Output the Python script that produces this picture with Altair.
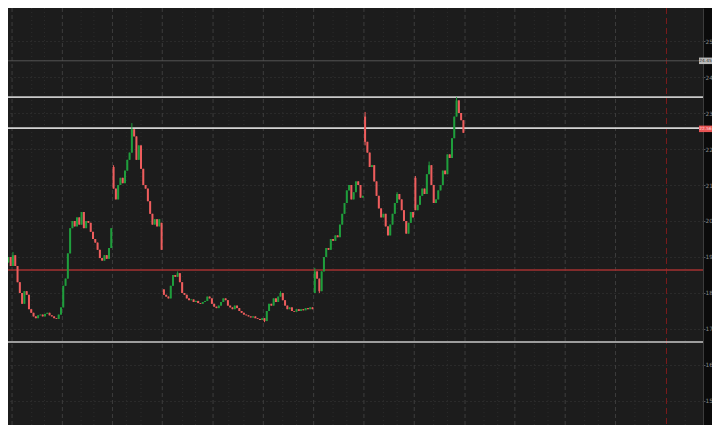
import altair as alt
import pandas as pd

# ---- data ----
closes = [
    18.85, 19.0, 18.75, 19.05, 18.75, 18.3, 18.0, 17.7, 18.05, 17.95,
    17.55, 17.45, 17.35, 17.3, 17.38, 17.4, 17.35, 17.42, 17.45, 17.38,
    17.35, 17.3, 17.28, 17.4, 17.6, 18.2, 18.4, 19.1, 19.8, 20.0,
    19.85, 20.1, 19.9, 20.25, 19.8, 20.0, 19.95, 19.7, 19.5, 19.4,
    19.2, 18.97, 18.9, 19.05, 18.95, 19.25, 19.8, 20.9, 20.6, 21.0,
    21.2, 21.05, 21.4, 21.7, 21.9, 22.55, 22.35, 21.7, 22.1, 21.45,
    21.0, 20.9, 20.55, 20.2, 19.9, 20.05, 19.85, 20.05, 19.2, 17.95,
    17.9, 17.85, 18.2, 18.5, 18.45, 18.55, 18.3, 18.0, 17.95, 17.85,
    17.8, 17.82, 17.75, 17.78, 17.72, 17.7, 17.75, 17.78, 17.9, 17.85,
    17.7, 17.62, 17.58, 17.65, 17.75, 17.85, 17.8, 17.65, 17.6, 17.55,
    17.65, 17.58, 17.5, 17.45, 17.4, 17.38, 17.35, 17.32, 17.35, 17.3,
    17.28, 17.25, 17.3, 17.22, 17.5, 17.7, 17.65, 17.85, 17.75, 17.9,
    18.0, 17.8, 17.65, 17.55, 17.6, 17.5, 17.48, 17.55, 17.5, 17.55,
    17.52, 17.58, 17.55, 17.6, 17.55, 18.6, 18.4, 18.05, 18.6, 19.0,
    19.25, 19.2, 19.5, 19.45, 19.6, 19.55, 19.9, 20.2, 20.5, 20.85,
    21.0, 20.6, 20.8, 21.1, 21.0, 20.65, 20.7, 22.2, 21.9, 21.5,
    21.55, 21.1, 20.7, 20.35, 20.1, 20.2, 19.85, 19.6, 19.9, 20.2,
    20.5, 20.75, 20.6, 20.3, 20.0, 19.65, 19.95, 20.25, 20.1, 20.3,
    20.45, 20.7, 20.9, 20.75, 21.3, 21.55, 21.0, 20.5, 20.6, 20.85,
    21.0, 21.4, 21.3, 21.85, 21.75, 22.3, 22.9, 23.35, 23.0, 22.8,
    22.45,
]
first_open = 18.8
gap_opens = {47: 21.5, 68: 19.95, 69: 18.1, 135: 18.0, 157: 22.9, 179: 21.2}
wick_highs = {3: 19.14, 47: 21.55, 55: 22.72, 75: 18.6, 120: 18.05, 135: 18.7,
              157: 23.03, 171: 20.8, 179: 21.25, 185: 21.65, 197: 23.44}
wick_lows = {113: 17.19, 137: 18.0, 157: 22.1}

level_values = [24.45, 23.44, 22.58, 18.64, 16.64]
level_colors = ["#555555", "#c9c9c9", "#d4d4d4", "#a33131", "#c9c9c9"]
level_widths = [1.0, 1.6, 1.6, 1.6, 1.6]

price_tags = ["24.45", "22.56"]
price_tag_levels = [24.45, 22.56]
price_tag_fill = ["#b9b9b9", "#e85454"]
price_tag_text = ["#2a2a2a", "#ffe0e0"]

y_ticks = [15, 16, 17, 18, 19, 20, 21, 22, 23, 24, 25]
major_days = [2.6, 24.6, 46.5, 68.3, 90.5, 112.5, 134.5, 156.5, 178.5,
              200.7, 222.5, 244.5, 266.5]
minor_days = [11.2, 16.8, 32.8, 38.4, 52.6, 59.0, 77.2, 82.8, 97.4, 104.0,
              121.0, 127.0, 143.0, 149.0, 165.0, 171.0, 187.0, 193.0,
              209.0, 215.0, 231.0, 237.0, 253.0, 259.0, 275.0, 281.0,
              297.0]
today_marker = [288.8]

# ---- build candle table ----
rows = []
prev = first_open
for i, c in enumerate(closes):
    o = gap_opens.get(i, prev)
    hi = wick_highs.get(i, max(o, c))
    lo = wick_lows.get(i, min(o, c))
    rows.append({"i": i, "open": o, "close": c, "high": hi, "low": lo,
                 "dir": "up" if c >= o else "down"})
    prev = c
candles = pd.DataFrame(rows)

levels = pd.DataFrame({"level": level_values, "col": level_colors, "w": level_widths})
tags = pd.DataFrame({"label": price_tags, "level": price_tag_levels,
                     "fill": price_tag_fill, "tcol": price_tag_text})
majors = pd.DataFrame({"d": major_days})
minors = pd.DataFrame({"d": minor_days})
today = pd.DataFrame({"d": today_marker})

xs = alt.Scale(domain=[3.017, 302.59], nice=False, zero=False)
ys = alt.Scale(domain=[14.333, 25.917], nice=False, zero=False)

yaxis = alt.Axis(orient="right", values=y_ticks, format="d", title=None,
                 grid=True, gridColor="#383838", gridDash=[1, 3], gridWidth=1,
                 labelColor="#8c8c8c", labelFontSize=5.8, labelFont="DejaVu Sans",
                 labelPadding=0, tickSize=2, tickColor="#555555",
                 domainColor="#3c3c3c")

color = alt.Color("dir:N", scale=alt.Scale(domain=["up", "down"],
                                           range=["#1f9e3c", "#ee5d5d"]), legend=None)

minor_layer = alt.Chart(minors).mark_rule(color="#2c2c2c", strokeDash=[1, 3], strokeWidth=1).encode(
    x=alt.X("d:Q", scale=xs, axis=None))
major_layer = alt.Chart(majors).mark_rule(color="#3d3d3d", strokeDash=[4, 3], strokeWidth=1).encode(
    x=alt.X("d:Q", scale=xs, axis=None))
today_layer = alt.Chart(today).mark_rule(color="#7d1c1c", strokeDash=[6, 4], strokeWidth=1).encode(
    x=alt.X("d:Q", scale=xs, axis=None))

wicks = alt.Chart(candles).mark_rule(strokeWidth=1, clip=True).encode(
    x=alt.X("i:Q", scale=xs, axis=None),
    y=alt.Y("low:Q", scale=ys, axis=yaxis),
    y2="high:Q",
    color=color)
bodies = alt.Chart(candles).mark_bar(size=2, clip=True).encode(
    x=alt.X("i:Q", scale=xs, axis=None),
    y=alt.Y("open:Q", scale=ys, axis=yaxis),
    y2="close:Q",
    color=color)

level_layer = alt.Chart(levels).mark_rule().encode(
    y=alt.Y("level:Q", scale=ys, axis=yaxis),
    color=alt.Color("col:N", scale=None),
    strokeWidth=alt.StrokeWidth("w:Q", scale=None))

tag_box = alt.Chart(tags).mark_point(
    shape="M-1,-0.5H1V0.5H-1Z", filled=True, opacity=1, size=169).encode(
    x=alt.value(697.5),
    y=alt.Y("level:Q", scale=ys, axis=yaxis),
    fill=alt.Color("fill:N", scale=None),
    stroke=alt.value(None))
tag_text = alt.Chart(tags).mark_text(fontSize=4.3, font="DejaVu Sans").encode(
    x=alt.value(697.5),
    y=alt.Y("level:Q", scale=ys, axis=yaxis),
    text="label:N",
    color=alt.Color("tcol:N", scale=None))

chart = alt.layer(
    minor_layer, major_layer, today_layer, level_layer, wicks, bodies, tag_box, tag_text
).properties(
    width=695, height=417,
    padding={"left": 0, "top": 0, "right": 9, "bottom": 0},
    autosize=alt.AutoSizeParams(type="none"),
    background="#0b0b0b",
).configure_view(fill="#1c1c1c", stroke=None)

chart.save("out.html", embed_options={"renderer": "svg", "actions": False})
